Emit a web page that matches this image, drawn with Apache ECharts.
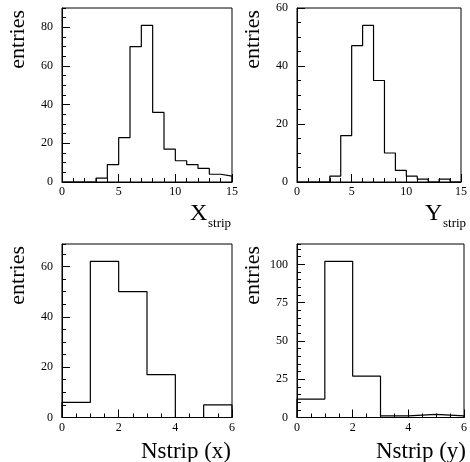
<!DOCTYPE html>
<html>
<head>
<meta charset="utf-8">
<script src="https://cdn.jsdelivr.net/npm/echarts@6/dist/echarts.min.js"></script>
<style>
html,body{margin:0;padding:0;background:#fff;}
#c{width:470px;height:462px;}
</style>
</head>
<body>
<div id="c"></div>
<script>
// ---- data (entries per unit-width bin, bins start at 0) ----
const xStripEntries  = [0, 0, 0, 2, 9, 23, 70, 81, 36, 17, 11, 9, 7, 4, 3];
const yStripEntries  = [0, 0, 0, 2, 16, 47, 54, 35, 10, 4, 2, 1, 0, 1, 0];
const nStripXEntries = [6, 62, 50, 17, 0, 5];
const nStripYEntries = [12, 102, 27, 1, 2, 1];

// axis ranges / tick steps
const xMaxes      = [15, 15, 6, 6];
const xMajorSteps = [5, 5, 2, 2];
const xMinorSplit = [5, 5, 4, 4];
const yMaxes      = [90, 60, 68.9, 113.3];
const yMajorSteps = [20, 20, 20, 25];
const yMinorSteps = [5, 5, 5, 5];

const titles = [['X', 'strip'], ['Y', 'strip'], ['Nstrip (x)', ''], ['Nstrip (y)', '']];
const yTitle = 'entries';

const FONT = '"Liberation Serif", "Times New Roman", serif';
const seriesData = [xStripEntries, yStripEntries, nStripXEntries, nStripYEntries];

const grids = [
  {left: 62, top: 8, width: 170, height: 174},
  {left: 297, top: 8, width: 170, height: 174},
  {left: 62, top: 244, width: 170, height: 173.5},
  {left: 297, top: 244, width: 170, height: 173.5}
];

function histPoints(vals) {
  const pts = [[0, 0]];
  for (let i = 0; i < vals.length; i++) pts.push([i, vals[i]]);
  pts.push([vals.length, vals[vals.length - 1]]);
  pts.push([vals.length, 0]);
  return pts;
}

const option = {
  animation: false,
  backgroundColor: '#fff',
  grid: grids.map(g => Object.assign({show: true, borderColor: '#000', borderWidth: 1, backgroundColor: 'transparent'}, g)),
  xAxis: grids.map((g, i) => ({
    type: 'value', gridIndex: i, min: 0, max: xMaxes[i], interval: xMajorSteps[i],
    axisLine: {show: true, onZero: false, lineStyle: {color: '#000', width: 1}},
    axisTick: {show: true, inside: true, length: 8, lineStyle: {color: '#000', width: 1}},
    minorTick: {show: true, splitNumber: xMinorSplit[i], length: 4, lineStyle: {color: '#000', width: 1}},
    axisLabel: {show: true, fontFamily: FONT, fontSize: 12, color: '#000', margin: 4},
    splitLine: {show: false}, minorSplitLine: {show: false}
  })),
  yAxis: grids.map((g, i) => ({
    type: 'value', gridIndex: i, min: 0, max: yMaxes[i], interval: yMajorSteps[i],
    axisLine: {show: true, onZero: false, lineStyle: {color: '#000', width: 1}},
    axisTick: {show: true, inside: true, length: 8, lineStyle: {color: '#000', width: 1}},
    axisLabel: {show: true, fontFamily: FONT, fontSize: 12, color: '#000', margin: 9,
      showMaxLabel: (yMaxes[i] % yMajorSteps[i]) === 0},
    splitLine: {show: false}
  })).concat(grids.map((g, i) => ({
    type: 'value', gridIndex: i, min: 0, max: yMaxes[i], interval: yMinorSteps[i], position: 'left',
    axisLine: {show: false},
    axisTick: {show: true, inside: true, length: 4, lineStyle: {color: '#000', width: 1}},
    axisLabel: {show: false},
    splitLine: {show: false}
  }))),
  series: seriesData.map((vals, i) => ({
    type: 'line', xAxisIndex: i, yAxisIndex: i, step: 'end',
    data: histPoints(vals), showSymbol: false, symbol: 'none',
    lineStyle: {color: '#000', width: 1.2}, clip: false, silent: true
  })),
  graphic: []
};

grids.forEach((g, i) => {
  const right = g.left + g.width;
  const bottom = g.top + g.height;
  option.graphic.push({
    type: 'text', x: g.left - 44, y: g.top + 2, rotation: Math.PI / 2,
    style: {text: yTitle, font: '22px ' + FONT, fill: '#000', textAlign: 'right', align: 'right', textVerticalAlign: 'middle', verticalAlign: 'middle'}
  });
  const t = titles[i];
  if (t[1]) {
    option.graphic.push({
      type: 'text', x: right - 42, y: bottom + 31.5,
      style: {text: t[0], font: '24px ' + FONT, fill: '#000', textAlign: 'left', align: 'left', textVerticalAlign: 'middle', verticalAlign: 'middle'}
    });
    option.graphic.push({
      type: 'text', x: right - 24, y: bottom + 41.5,
      style: {text: t[1], font: '13px ' + FONT, fill: '#000', textAlign: 'left', align: 'left', textVerticalAlign: 'middle', verticalAlign: 'middle'}
    });
  } else {
    option.graphic.push({
      type: 'text', x: right - 1, y: bottom + 34.5,
      style: {text: t[0], font: '23px ' + FONT, fill: '#000', textAlign: 'right', align: 'right', textVerticalAlign: 'middle', verticalAlign: 'middle'}
    });
  }
});

const chart = echarts.init(document.getElementById('c'), null, {renderer: 'canvas'});
chart.setOption(option);
</script>
</body>
</html>
